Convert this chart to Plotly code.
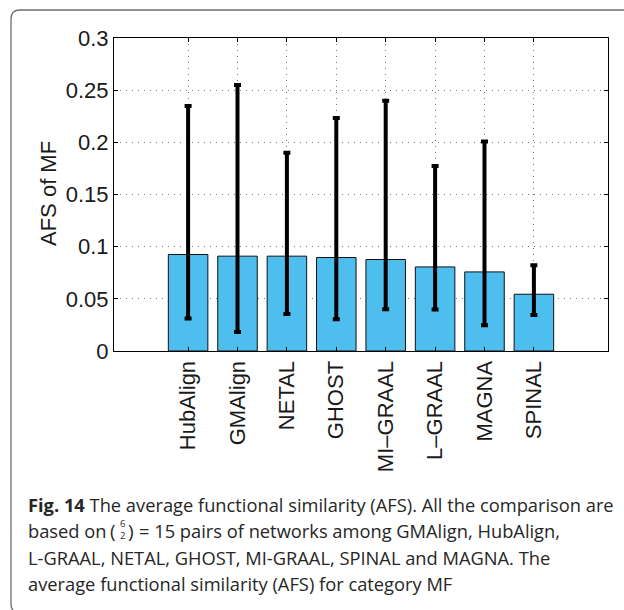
import plotly.graph_objects as go

# Average functional similarity (AFS) for GO category MF, per aligner
methods = ["HubAlign", "GMAlign", "NETAL", "GHOST", "MI–GRAAL", "L–GRAAL", "MAGNA", "SPINAL"]
afs_mean = [0.0925, 0.0909, 0.0909, 0.0896, 0.0877, 0.0806, 0.0758, 0.0544]
afs_upper = [0.2348, 0.2550, 0.1900, 0.2233, 0.2399, 0.1772, 0.2009, 0.0822]
afs_lower = [0.0311, 0.0182, 0.0355, 0.0304, 0.0400, 0.0397, 0.0247, 0.0345]

y_ticks = [0, 0.05, 0.1, 0.15, 0.2, 0.25, 0.3]
y_tick_text = ["0", "0.05", "0.1", "0.15", "0.2", "0.25", "0.3"]

W, H = 624, 610
L, R, T, B = 114, 608, 38, 351


def px(x):
    return (x - L) / (R - L)


def py(y):
    return (B - y) / (B - T)


positions = list(range(1, len(methods) + 1))
err_plus = [u - m for u, m in zip(afs_upper, afs_mean)]
err_minus = [m - l for m, l in zip(afs_mean, afs_lower)]

fig = go.Figure()
fig.add_trace(go.Bar(
    x=positions,
    y=afs_mean,
    width=0.8,
    marker=dict(color="#4DBEEE", line=dict(color="#111111", width=1)),
    error_y=dict(type="data", symmetric=False, array=err_plus, arrayminus=err_minus,
                 color="black", thickness=4, width=3.5),
    hoverinfo="skip",
))

tick_font = dict(family="Liberation Sans, Arial, sans-serif", size=22, color="#1a1a1a")
grid = dict(showgrid=True, gridcolor="#777777", gridwidth=1, griddash="1px,5px")

fig.update_xaxes(
    range=[-0.5, 9.5],
    tickvals=positions,
    ticktext=methods,
    tickangle=-90,
    tickfont=tick_font,
    showline=True, linecolor="black", linewidth=1.2, mirror="ticks",
    ticks="inside", ticklen=4, tickcolor="black",
    zeroline=False, **grid,
)
fig.update_yaxes(
    range=[0, 0.3],
    tickvals=y_ticks,
    ticktext=y_tick_text,
    tickfont=tick_font,
    showline=True, linecolor="black", linewidth=1.2, mirror="ticks",
    ticks="inside", ticklen=4, tickcolor="black",
    zeroline=False, **grid,
)

annotations = [
    dict(x=px(48), y=py(194), xref="paper", yref="paper", text="AFS of MF",
         textangle=-90, showarrow=False,
         font=dict(family="Liberation Sans, Arial, sans-serif", size=22, color="#1a1a1a"),
         xanchor="center", yanchor="middle"),
]

cap_font = dict(family="Open Sans, sans-serif", size=18.3, color="#262626")
cap_x = px(27)


def cap(text, x, y, font=cap_font, anchor="left"):
    return dict(x=x, y=py(y), xref="paper", yref="paper", text=text, showarrow=False,
                font=font, xanchor=anchor, yanchor="middle", align="center",
                borderpad=0)


small = dict(family="Open Sans, sans-serif", size=9.5, color="#262626")
paren = dict(family="Open Sans, sans-serif", size=19, color="#262626")

annotations += [
    cap("<b>Fig. 14</b> The average functional similarity (AFS). All the comparison are", cap_x, 504),
    cap("based on", cap_x, 530.5),
    # binomial coefficient (6 choose 2)
    cap("(", px(113), 531, paren, "center"),
    cap("6<br>2", px(122), 529.5, small, "center"),
    cap(")", px(131), 531, paren, "center"),
    cap("= 15 pairs of networks among GMAlign, HubAlign,", px(138), 530.5),
    cap("L-GRAAL, NETAL, GHOST, MI-GRAAL, SPINAL and MAGNA. The", cap_x, 557),
    cap("average functional similarity (AFS) for category MF", cap_x, 583.5),
]

# panel frame: left and top edges with rounded corners
fx, ftop, fbot, r = 11, 10, 613, 9
frame_col = "#6e6e6e"
shapes = [
    dict(type="line", xref="paper", yref="paper", x0=px(fx), x1=px(fx),
         y0=py(ftop + r), y1=py(fbot - r), line=dict(color=frame_col, width=1.3)),
    dict(type="line", xref="paper", yref="paper", x0=px(fx + r), x1=px(W + 5),
         y0=py(ftop), y1=py(ftop), line=dict(color=frame_col, width=1.3)),
    dict(type="path", xref="paper", yref="paper",
         path=f"M {px(fx)},{py(ftop + r)} Q {px(fx)},{py(ftop)} {px(fx + r)},{py(ftop)}",
         line=dict(color=frame_col, width=1.3)),
    dict(type="path", xref="paper", yref="paper",
         path=f"M {px(fx)},{py(fbot - r)} Q {px(fx)},{py(fbot)} {px(fx + r)},{py(fbot)}",
         line=dict(color=frame_col, width=1.3)),
]

fig.update_layout(
    width=W, height=H,
    margin=dict(l=L, r=W - R, t=T, b=H - B, pad=0),
    paper_bgcolor="white", plot_bgcolor="white",
    showlegend=False,
    annotations=annotations,
    shapes=shapes,
)

fig.write_html("out.html")
